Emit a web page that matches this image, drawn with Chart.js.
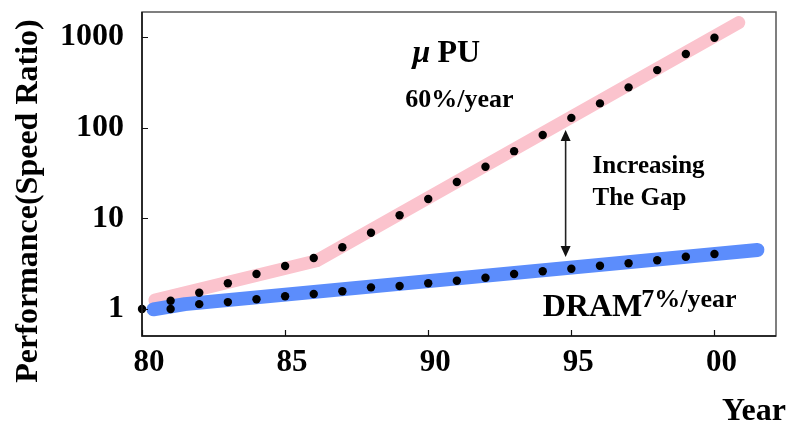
<!DOCTYPE html>
<html>
<head>
<meta charset="utf-8">
<script src="https://cdn.jsdelivr.net/npm/chart.js@4"></script>
<style>
  body { margin: 0; background: #fff; }
  canvas { display: block; }
</style>
</head>
<body>
<canvas id="gap-chart" width="790" height="425"></canvas>
<script>
// years with a measured dot
const dotYears = [81, 82, 83, 84, 85, 86, 87, 88, 89, 90, 91, 92, 93, 94, 95, 96, 97, 98, 99, 100];
const cpuDots = [1.23, 1.51, 1.92, 2.43, 2.98, 3.65, 4.79, 6.93, 10.8, 16.3, 25.1, 37, 55, 83, 128, 185, 278, 431, 648, 980];
const dramDots = [1.0, 1.13, 1.19, 1.28, 1.38, 1.46, 1.57, 1.73, 1.79, 1.92, 2.05, 2.21, 2.43, 2.6, 2.78, 3.0, 3.19, 3.44, 3.77, 4.04];
const startDot = { x: 80, y: 1 };

// trend bands (knots)
const cpuTrendX = [80.45, 86.1, 100.85];
const cpuTrendY = [1.25, 3.4, 1440];
const dramTrendX = [80.4, 81.5, 101.5];
const dramTrendY = [0.99, 1.13, 4.47];

const xTicks = [80, 85, 90, 95, 100];
const xTickLabels = ['80', '85', '90', '95', '00'];
const yTicks = [1, 10, 100, 1000];

const gapArrow = { x: 94.8, top: 94, bottom: 3.74 };

const serif = '"Liberation Serif", "Times New Roman", serif';

const toPoints = (xs, ys) => xs.map((x, i) => ({ x: x, y: ys[i] }));

// frame, inward tick marks, arrow and free text
const decorations = {
    id: 'decorations',
    afterDatasetsDraw(chart) {
        const ctx = chart.ctx;
        const area = chart.chartArea;
        const xs = chart.scales.x;
        const ys = chart.scales.y;
        ctx.save();

        ctx.strokeStyle = '#555';
        ctx.lineWidth = 1.5;
        ctx.strokeRect(area.left, area.top, area.right - area.left, area.bottom - area.top);
        ctx.strokeStyle = '#111';
        ctx.beginPath();
        ctx.moveTo(area.left, area.top);
        ctx.lineTo(area.left, area.bottom);
        ctx.lineTo(area.right, area.bottom);
        ctx.stroke();

        ctx.beginPath();
        xTicks.forEach(v => {
            const px = Math.round(xs.getPixelForValue(v)) + 0.5;
            ctx.moveTo(px, area.bottom);
            ctx.lineTo(px, area.bottom - 6);
        });
        yTicks.forEach(v => {
            const py = Math.round(ys.getPixelForValue(v)) + 0.5;
            ctx.moveTo(area.left, py);
            ctx.lineTo(area.left + 6, py);
        });
        ctx.lineWidth = 1.2;
        ctx.stroke();

        // double arrow
        const ax = xs.getPixelForValue(gapArrow.x);
        const at = ys.getPixelForValue(gapArrow.top);
        const ab = ys.getPixelForValue(gapArrow.bottom);
        ctx.strokeStyle = '#222';
        ctx.fillStyle = '#111';
        ctx.lineWidth = 1.6;
        ctx.beginPath();
        ctx.moveTo(ax, at + 8);
        ctx.lineTo(ax, ab - 8);
        ctx.stroke();
        ctx.beginPath();
        ctx.moveTo(ax, at);
        ctx.lineTo(ax - 5, at + 11);
        ctx.lineTo(ax + 5, at + 11);
        ctx.closePath();
        ctx.moveTo(ax, ab);
        ctx.lineTo(ax - 5, ab - 11);
        ctx.lineTo(ax + 5, ab - 11);
        ctx.closePath();
        ctx.fill();

        ctx.fillStyle = '#000';
        ctx.textAlign = 'left';
        ctx.textBaseline = 'alphabetic';

        // μ PU label
        let px = xs.getPixelForValue(89.45);
        let py = ys.getPixelForValue(533);
        ctx.font = 'italic bold 32px ' + serif;
        ctx.fillText('μ', px, py);
        ctx.font = 'bold 32px ' + serif;
        ctx.fillText('PU', px + 25, py);

        ctx.font = 'bold 26px ' + serif;
        ctx.fillText('60%/year', xs.getPixelForValue(89.2), ys.getPixelForValue(170));

        ctx.font = 'bold 25px ' + serif;
        ctx.fillText('Increasing', xs.getPixelForValue(95.74), ys.getPixelForValue(31.3));
        ctx.fillText('The Gap', xs.getPixelForValue(95.74), ys.getPixelForValue(14));

        px = xs.getPixelForValue(94.0);
        py = ys.getPixelForValue(0.837);
        ctx.font = 'bold 32px ' + serif;
        ctx.fillText('DRAM', px, py);
        const w = ctx.measureText('DRAM').width;
        ctx.font = 'bold 26px ' + serif;
        ctx.fillText('7%/year', px + w - 1, ys.getPixelForValue(1.06));

        // axis titles
        ctx.font = 'bold 32px ' + serif;
        ctx.fillText('Year', 722, 420);

        ctx.translate(29, 201);
        ctx.rotate(-Math.PI / 2);
        ctx.textAlign = 'center';
        ctx.textBaseline = 'middle';
        ctx.font = 'bold 32px ' + serif;
        ctx.fillText('Performance(Speed Ratio)', 0, 0);

        ctx.restore();
    }
};

const gapChart = new Chart(document.getElementById('gap-chart'), {
    type: 'line',
    data: {
        datasets: [
            {
                label: 'uPU trend',
                data: toPoints(cpuTrendX, cpuTrendY),
                borderColor: '#fbc3cd',
                borderWidth: 13,
                borderCapStyle: 'round',
                borderJoinStyle: 'round',
                pointRadius: 0,
                order: 2
            },
            {
                label: 'DRAM trend',
                data: toPoints(dramTrendX, dramTrendY),
                borderColor: '#5c8dfc',
                borderWidth: 14,
                borderCapStyle: 'round',
                borderJoinStyle: 'round',
                pointRadius: 0,
                order: 1
            },
            {
                label: 'uPU',
                data: toPoints(dotYears, cpuDots),
                showLine: false,
                pointRadius: 4.2,
                pointBorderWidth: 0,
                pointBackgroundColor: '#000',
                clip: false,
                order: 0
            },
            {
                label: 'DRAM',
                data: [startDot].concat(toPoints(dotYears, dramDots)),
                showLine: false,
                pointRadius: 4.2,
                pointBorderWidth: 0,
                pointBackgroundColor: '#000',
                clip: false,
                order: 0
            }
        ]
    },
    options: {
        responsive: false,
        animation: false,
        layout: {
            padding: { top: 12, right: 14, left: 0, bottom: 0 }
        },
        plugins: {
            legend: { display: false },
            tooltip: { enabled: false }
        },
        scales: {
            x: {
                type: 'linear',
                min: 80,
                max: 102.15,
                grid: { display: false, drawTicks: false },
                border: { display: false },
                afterBuildTicks: scale => { scale.ticks = xTicks.map(v => ({ value: v })); },
                afterFit: scale => {
                    scale.height = 89;
                    scale.paddingLeft = 0;
                    scale.paddingRight = 0;
                },
                ticks: {
                    autoSkip: false,
                    maxRotation: 0,
                    padding: 8,
                    labelOffset: 7,
                    color: '#000',
                    font: { family: serif, size: 31, weight: 'bold' },
                    callback: value => xTickLabels[xTicks.indexOf(value)]
                }
            },
            y: {
                type: 'logarithmic',
                min: 0.503,
                max: 1885,
                grid: { display: false, drawTicks: false },
                border: { display: false },
                afterBuildTicks: scale => { scale.ticks = yTicks.map(v => ({ value: v })); },
                afterFit: scale => {
                    scale.width = 142;
                    scale.paddingTop = 0;
                    scale.paddingBottom = 0;
                },
                ticks: {
                    autoSkip: false,
                    padding: 18,
                    color: '#000',
                    font: { family: serif, size: 32, weight: 'bold' },
                    callback: value => String(value)
                }
            }
        }
    },
    plugins: [decorations]
});
</script>
</body>
</html>
